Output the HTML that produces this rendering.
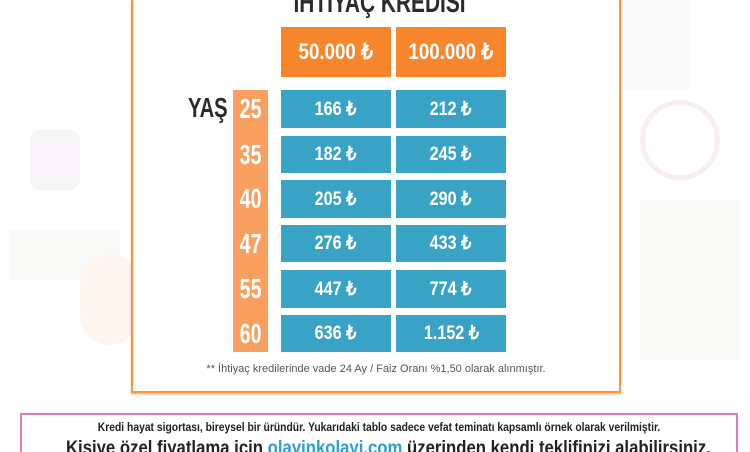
<!DOCTYPE html>
<html><head><meta charset="utf-8"><style>
html,body{margin:0;width:750px;height:452px;overflow:hidden;background:#fff;position:relative;font-family:"Liberation Sans",sans-serif}
.a{position:absolute}
.c{position:absolute;display:flex;align-items:center;justify-content:center;color:#fff;font-weight:bold;font-family:"Liberation Sans Narrow","Liberation Sans",sans-serif}
.o{background:#f7862d;font-size:22px}
.b{background:#38a3c5;font-size:19px}
.n{transform:scaleX(.85);display:inline-block;white-space:nowrap}
</style></head><body>
<div class="a" style="left:30px;top:130px;width:50px;height:60px;background:#f8f5f8;border-radius:10px"></div>
<div class="a" style="left:10px;top:230px;width:110px;height:50px;background:#f9f9f8"></div>
<div class="a" style="left:80px;top:255px;width:60px;height:90px;background:#fdf6ee;border-radius:30px"></div>
<div class="a" style="left:640px;top:100px;width:70px;height:70px;border:5px solid #f8eef1;border-radius:50%"></div>
<div class="a" style="left:640px;top:200px;width:100px;height:160px;background:#fafaf9"></div>
<div class="a" style="left:570px;top:0;width:120px;height:90px;background:#fafafa"></div>
<div class="a" style="left:131px;top:0;width:486px;height:391px;border:2px solid #f7963f;border-top:none;background:#fff;box-shadow:0 2px 2px #ccc"></div>
<div class="a" style="left:230px;top:-14px;width:300px;text-align:center;font-family:'Liberation Sans Narrow','Liberation Sans',sans-serif;font-weight:bold;font-size:29px;color:#2b2b2b;white-space:nowrap;line-height:34px"><span class="n" style="transform:scaleX(.72)">İHTİYAÇ KREDİSİ</span></div>
<div class="c o" style="left:281px;top:27px;width:110px;height:50px"><span class="n">50.000 ₺</span></div>
<div class="c o" style="left:396px;top:27px;width:110px;height:50px"><span class="n">100.000 ₺</span></div>
<div class="a" style="left:188px;top:92px;font-family:'Liberation Sans Narrow','Liberation Sans',sans-serif;font-weight:bold;font-size:28px;color:#2b2b2b"><span class="n" style="transform:scaleX(.72);transform-origin:left">YAŞ</span></div>
<div class="a" style="left:233px;top:90px;width:35px;height:262px;background:#f9a060"></div>
<div class="c" style="left:233px;top:90px;width:35px;height:38px;font-size:28px"><span class="n" style="transform:scaleX(.7)">25</span></div>
<div class="c" style="left:233px;top:136px;width:35px;height:37px;font-size:28px"><span class="n" style="transform:scaleX(.7)">35</span></div>
<div class="c" style="left:233px;top:180px;width:35px;height:38px;font-size:28px"><span class="n" style="transform:scaleX(.7)">40</span></div>
<div class="c" style="left:233px;top:225px;width:35px;height:37px;font-size:28px"><span class="n" style="transform:scaleX(.7)">47</span></div>
<div class="c" style="left:233px;top:270px;width:35px;height:38px;font-size:28px"><span class="n" style="transform:scaleX(.7)">55</span></div>
<div class="c" style="left:233px;top:315px;width:35px;height:37px;font-size:28px"><span class="n" style="transform:scaleX(.7)">60</span></div>
<div class="c b" style="left:281px;top:90px;width:110px;height:38px"><span class="n">166 ₺</span></div>
<div class="c b" style="left:396px;top:90px;width:110px;height:38px"><span class="n">212 ₺</span></div>
<div class="c b" style="left:281px;top:136px;width:110px;height:37px"><span class="n">182 ₺</span></div>
<div class="c b" style="left:396px;top:136px;width:110px;height:37px"><span class="n">245 ₺</span></div>
<div class="c b" style="left:281px;top:180px;width:110px;height:38px"><span class="n">205 ₺</span></div>
<div class="c b" style="left:396px;top:180px;width:110px;height:38px"><span class="n">290 ₺</span></div>
<div class="c b" style="left:281px;top:225px;width:110px;height:37px"><span class="n">276 ₺</span></div>
<div class="c b" style="left:396px;top:225px;width:110px;height:37px"><span class="n">433 ₺</span></div>
<div class="c b" style="left:281px;top:270px;width:110px;height:38px"><span class="n">447 ₺</span></div>
<div class="c b" style="left:396px;top:270px;width:110px;height:38px"><span class="n">774 ₺</span></div>
<div class="c b" style="left:281px;top:315px;width:110px;height:37px"><span class="n">636 ₺</span></div>
<div class="c b" style="left:396px;top:315px;width:110px;height:37px"><span class="n">1.152 ₺</span></div>
<div class="a" style="left:133px;top:363px;width:486px;text-align:center;font-size:11px;color:#555">** İhtiyaç kredilerinde vade 24 Ay / Faiz Oranı %1,50 olarak alınmıştır.</div>
<div class="a" style="left:20px;top:413px;width:714px;height:37px;border:2px solid #e07ab8;border-bottom:none;overflow:hidden">
<div class="a" style="left:0;top:5px;width:714px;text-align:center;font-size:12px;font-weight:bold;color:#222;line-height:14px"><span class="n" style="transform:scaleX(.86)">Kredi hayat sigortası, bireysel bir üründür. Yukarıdaki tablo sadece vefat teminatı kapsamlı örnek olarak verilmiştir.</span></div>
<div class="a" style="left:0;top:23px;width:714px;text-align:center;font-size:19px;font-weight:bold;color:#222;white-space:nowrap;line-height:22px"><span class="n" style="transform:scaleX(.88)">Kişiye özel fiyatlama için <span style="color:#2a9fd0">olayinkolayi.com</span> üzerinden kendi teklifinizi alabilirsiniz.</span></div>
</div>
</body></html>
